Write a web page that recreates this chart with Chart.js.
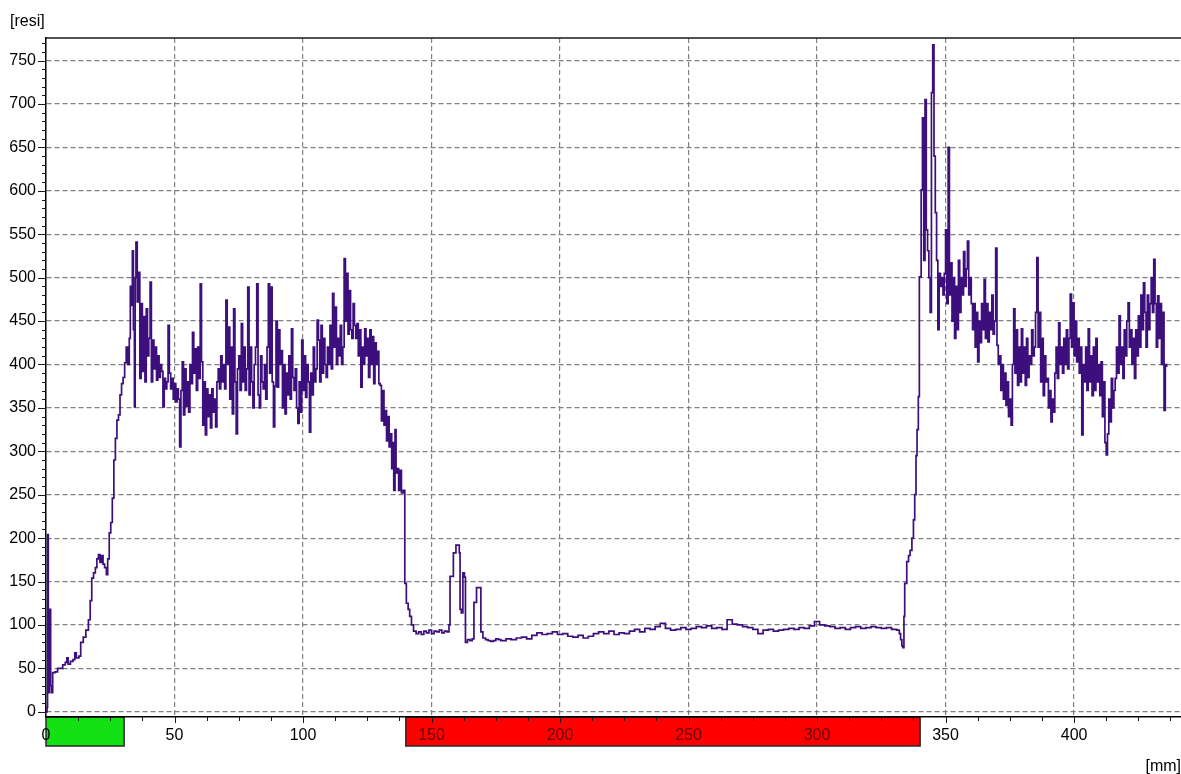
<!DOCTYPE html>
<html>
<head>
<meta charset="utf-8">
<title>Resistograph</title>
<script src="https://cdn.jsdelivr.net/npm/chart.js@4.4.1/dist/chart.umd.min.js"></script>
<style>
  html, body { margin: 0; padding: 0; background: #fff; }
  #wrap { width: 1181px; height: 774px; }
</style>
</head>
<body>
<div id="wrap"><canvas id="chart" width="1181" height="774"></canvas></div>
<script>
// depth in mm, resistance in [resi]
const depthTicks = [0, 50, 100, 150, 200, 250, 300, 350, 400];
const resiTicks = [0, 50, 100, 150, 200, 250, 300, 350, 400, 450, 500, 550, 600, 650, 700, 750];

// marked zones under the x axis (mm)
const bandRanges = [[0, 30.4], [140, 340.1]];

const startDepth = [0, 0.4, 0.6, 0.9, 1.2, 1.4, 1.8, 2.2, 2.6, 3.5, 4.5, 5.5, 6.5, 7.5, 8.1, 8.6, 9.5, 10.5, 11.2, 11.8,
  12.8, 13.5, 14.5, 15.5, 16.5, 17.2, 17.8, 18.5, 19.2, 19.8, 20.4, 21, 21.6, 22.2, 22.8, 23.5, 24, 24.6, 25.2, 25.8,
  26.4, 27, 27.6, 28.2, 28.8, 29.4, 30, 30.6, 31.2, 31.8, 32.4, 32.8, 33.2, 33.6, 34, 34.4, 34.7];
const startResi = [0, 5, 204, 30, 22, 118, 30, 22, 45, 46, 50, 50, 54, 57, 62, 55, 58, 60, 68, 62,
  64, 80, 86, 94, 106, 128, 154, 160, 166, 176, 181, 172, 180, 170, 166, 158, 176, 206, 218, 246,
  290, 315, 336, 342, 365, 378, 385, 402, 420, 400, 430, 490, 468, 531, 440, 351, 500];

// first dense zone, sampled every 0.5 mm from 35 mm
const zoneAStart = 35;
const zoneAStep = 0.5;
const zoneAResi = [
  541, 472, 506, 384, 470, 392, 455, 380, 464, 410,
  430, 495, 380, 428, 395, 420, 382, 410, 385, 400,
  392, 351, 384, 372, 380, 445, 390, 372, 384, 360,
  378, 357, 372, 360, 305, 370, 403, 342, 395, 352,
  380, 345, 400, 378, 437, 390, 418, 370, 420, 384,
  493, 403, 330, 380, 319, 372, 340, 365, 327, 372,
  345, 360, 328, 380, 395, 372, 410, 380, 400, 372,
  474, 400, 443, 360, 420, 343, 464, 380, 320, 395,
  410, 370, 447, 380, 420, 370, 395, 489, 365, 420,
  380, 350, 400, 420, 493, 365, 350, 410, 380, 372,
  400, 360, 420, 493, 390, 489, 380, 328, 375, 450,
  374, 440, 400, 416, 350, 400, 343, 390, 365, 410,
  360, 441, 385, 370, 395, 350, 332, 380, 345, 428,
  370, 410, 362, 400, 380, 322, 390, 365, 420, 380,
  395, 451, 428, 380, 445, 390, 430, 400, 385, 420,
  400, 445, 395, 482, 420, 466, 400, 430, 410, 445,
  400, 420, 522, 450, 505, 435, 485, 440, 430, 470,
  445, 430, 447, 410, 440, 374, 420, 400, 441, 410,
  430, 385, 440, 400, 432, 378, 425, 400, 415, 378
];

const dropDepth = [130, 130.5, 131, 131.5, 132, 132.5, 133, 133.5, 134, 134.5, 135, 135.3, 135.8, 136.2, 136.7, 137.2,
  137.7, 138.3, 139, 139.6, 140.2, 140.9, 141.5, 142.2, 143, 144, 145, 146, 147, 148, 149, 150, 151, 152, 153, 154,
  155, 156, 156.8, 157.2, 158.5, 159.5, 160.2, 160.8, 161.1, 161.6, 162.2, 162.8, 163.2, 164, 165, 165.8, 166.5,
  167.5, 168.5, 169.2, 170, 171, 172, 173, 174, 175, 176];
const dropResi = [376, 335, 370, 330, 347, 312, 340, 305, 320, 280, 310, 255, 325, 275, 280, 255,
  278, 252, 255, 148, 125, 118, 110, 100, 93, 90, 92, 89, 93, 91, 94, 90, 93, 92, 94, 91,
  93, 92, 100, 156, 183, 192, 192, 183, 118, 114, 160, 155, 80, 83, 82, 84, 126,
  143, 143, 92, 85, 83, 82, 81, 82, 84, 83];

// clear zone, sampled every 2 mm from 177 mm
const quietStart = 177;
const quietStep = 2;
const quietResi = [
  82, 84, 83, 85, 86, 84, 88, 91, 89, 90,
  92, 89, 90, 87, 86, 88, 85, 87, 90, 92,
  90, 93, 89, 91, 90, 93, 95, 92, 96, 95,
  98, 102, 96, 94, 95, 97, 95, 96, 98, 97,
  99, 96, 97, 95, 106, 101, 100, 98, 97, 95,
  90, 94, 95, 93, 94, 95, 96, 95, 97, 96,
  99, 104, 100, 99, 98, 96, 97, 95, 97, 98,
  96, 97, 98, 97, 96, 97, 95, 94
];

const riseDepth = [332, 332.5, 333, 333.4, 333.8, 334.1, 334.9, 335.6, 336.2, 336.9, 337.5, 338, 338.5, 338.9, 339.4, 339.8];
const riseResi = [90, 83, 76, 74, 110, 148, 173, 180, 186, 200, 221, 250, 295, 325, 363, 501];

// second dense zone, sampled every 0.5 mm from 340 mm
const zoneBStart = 340;
const zoneBStep = 0.5;
const zoneBResi = [
  501, 601, 684, 520, 705, 555, 531, 500, 460, 713,
  768, 640, 575, 520, 440, 505, 490, 500, 480, 505,
  555, 470, 650, 480, 517, 450, 500, 430, 490, 440,
  520, 460, 500, 480, 530, 490, 510, 542, 480, 500,
  470, 440, 470, 420, 460, 403, 450, 425, 470, 440,
  498, 430, 470, 426, 460, 440, 480, 435, 450, 534,
  422, 400, 410, 370, 400, 360, 390, 353, 380, 340,
  360, 330, 400, 464, 390, 440, 376, 420, 380, 441,
  390, 420, 376, 430, 385, 410, 400, 440, 410, 420,
  460, 523, 420, 460, 380, 430, 364, 410, 380, 384,
  350, 370, 334, 360, 345, 390, 420, 384, 448, 400,
  420, 390, 430, 400, 440, 395, 430, 481, 420, 471,
  410, 450, 403, 430, 390, 420, 319, 400, 380, 420,
  370, 441, 380, 410, 364, 420, 370, 430, 380, 400,
  364, 403, 340, 380, 310, 296, 320, 360, 334, 384,
  350, 370, 384, 420, 390, 456, 400, 420, 384, 440,
  410, 450, 471, 420, 440, 400, 430, 384, 440, 410,
  456, 420, 480, 440, 494, 460, 420, 480, 440, 470,
  500, 460, 521, 470, 420, 479, 430, 470, 400, 460,
  347, 400, 397
];

function pairPoints(depths, values) {
  return values.map((v, i) => ({ x: depths[i], y: v }));
}

function sampledPoints(start, step, values) {
  return values.map((v, i) => ({ x: start + i * step, y: v }));
}

const points = [
  ...pairPoints(startDepth, startResi),
  ...sampledPoints(zoneAStart, zoneAStep, zoneAResi),
  ...pairPoints(dropDepth, dropResi),
  ...sampledPoints(quietStart, quietStep, quietResi),
  ...pairPoints(riseDepth, riseResi),
  ...sampledPoints(zoneBStart, zoneBStep, zoneBResi),
];

const fontFamily = "'Liberation Sans', Arial, sans-serif";

const framePlugin = {
  id: "frame",
  beforeDraw(chart) {
    const { ctx, chartArea, scales } = chart;
    const colors = ["#14e014", "#ff0000"];
    ctx.save();
    bandRanges.forEach(([from, to], i) => {
      const left = scales.x.getPixelForValue(from);
      const right = scales.x.getPixelForValue(to);
      ctx.fillStyle = colors[i];
      ctx.fillRect(left, chartArea.bottom, right - left, 29);
      ctx.strokeStyle = "#2a2a2a";
      ctx.lineWidth = 1.5;
      ctx.strokeRect(left, chartArea.bottom, right - left, 29);
    });
    ctx.restore();
  },
  afterDraw(chart) {
    const { ctx, chartArea, scales } = chart;
    ctx.save();
    ctx.strokeStyle = "#1a1a1a";
    ctx.lineWidth = 1.5;
    ctx.beginPath();
    ctx.moveTo(chartArea.left, chartArea.top);
    ctx.lineTo(chartArea.right, chartArea.top);
    ctx.stroke();

    ctx.lineWidth = 1;
    ctx.beginPath();
    for (let v = 0; v <= 770; v += 10) {
      const y = Math.round(scales.y.getPixelForValue(v)) + 0.5;
      const len = v % 50 === 0 ? 8 : 4;
      ctx.moveTo(chartArea.left - len, y);
      ctx.lineTo(chartArea.left, y);
    }
    for (let v = 12.5; v <= 441; v += 12.5) {
      const x = Math.round(scales.x.getPixelForValue(v)) + 0.5;
      const len = v % 50 === 0 ? 6 : 4;
      ctx.moveTo(x, chartArea.bottom);
      ctx.lineTo(x, chartArea.bottom + len);
    }
    ctx.stroke();

    ctx.fillStyle = "#000";
    ctx.font = "16px " + fontFamily;
    ctx.textBaseline = "alphabetic";
    ctx.textAlign = "left";
    ctx.fillText("[resi]", 10, 26);
    ctx.textAlign = "right";
    ctx.fillText("[mm]", 1181, 771);
    ctx.restore();
  },
};

new Chart(document.getElementById("chart"), {
  type: "line",
  data: {
    datasets: [
      {
        data: points,
        borderColor: "#3c0f7c",
        borderWidth: 1.7,
        pointRadius: 0,
        stepped: true,
        fill: false,
      },
    ],
  },
  options: {
    responsive: false,
    animation: false,
    devicePixelRatio: 1,
    layout: { padding: { top: 38, left: 0, right: 0, bottom: 0 } },
    plugins: { legend: { display: false }, tooltip: { enabled: false } },
    scales: {
      x: {
        type: "linear",
        min: 0,
        max: 441.6,
        afterFit: (scale) => {
          scale.height = 57;
        },
        afterBuildTicks: (scale) => {
          scale.ticks = depthTicks.map((v) => ({ value: v }));
        },
        grid: {
          color: (c) => (c.tick && c.tick.value === 0 ? "rgba(0,0,0,0)" : "#808080"),
          lineWidth: 1.2,
          drawTicks: false,
        },
        border: { display: true, color: "#000", width: 1.5, dash: [5, 3] },
        ticks: {
          padding: 9,
          autoSkip: false,
          maxRotation: 0,
          color: (c) => (c.tick && c.tick.value >= 150 && c.tick.value <= 300 ? "#6a0000" : "#000"),
          font: { family: fontFamily, size: 16 },
        },
      },
      y: {
        type: "linear",
        min: -6,
        max: 776,
        afterFit: (scale) => {
          scale.width = 46;
        },
        afterBuildTicks: (scale) => {
          scale.ticks = resiTicks.map((v) => ({ value: v }));
        },
        grid: { color: "#808080", lineWidth: 1.2, drawTicks: false },
        border: { display: true, color: "#000", width: 1.5, dash: [5, 3] },
        ticks: {
          padding: 10,
          autoSkip: false,
          color: "#000",
          font: { family: fontFamily, size: 16 },
        },
      },
    },
  },
  plugins: [framePlugin],
});
</script>
</body>
</html>
